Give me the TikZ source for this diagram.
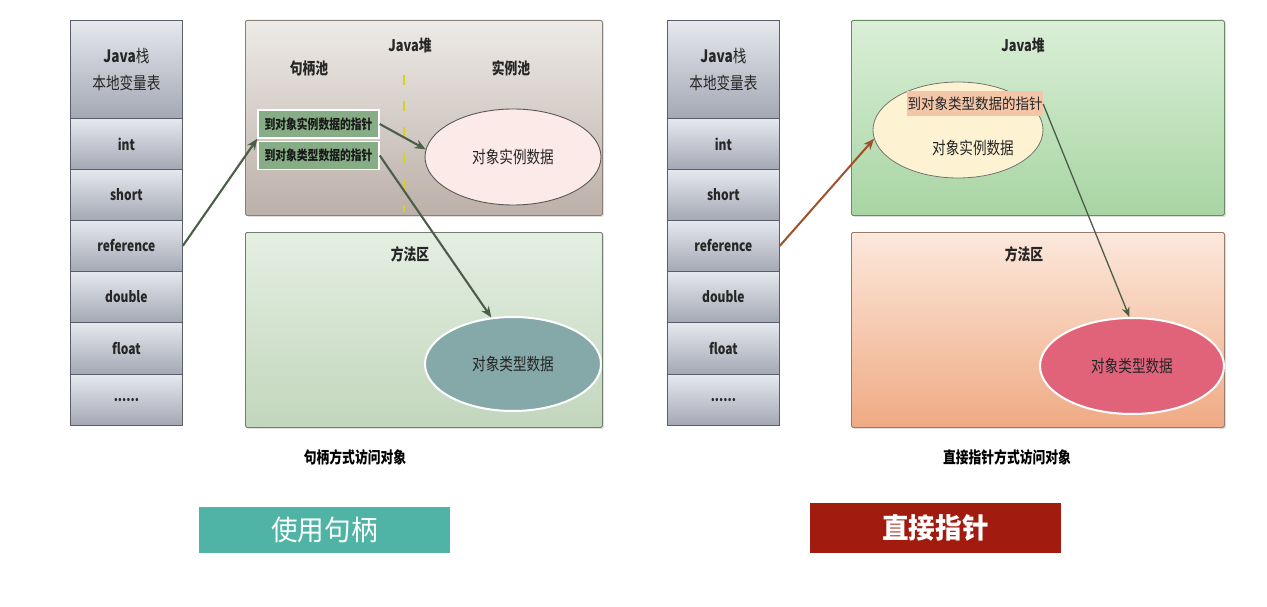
\documentclass[tikz,border=0pt]{standalone}
\usepackage{fontspec}
\setmainfont{Noto Sans CJK SC}[FakeStretch=0.8]
\newfontfamily\btnfont{Noto Sans CJK SC}[FakeStretch=0.95]
\newfontfamily\ptrfont{Noto Sans CJK SC}[FakeStretch=0.9]
\usetikzlibrary{arrows.meta,shapes.geometric,shadows}
\newcommand\fsz[2]{\fontsize{#1}{#2}\selectfont}
\definecolor{stacktop}{HTML}{E6E8EE}
\definecolor{stackbot}{HTML}{A4A8B4}
\definecolor{stackline}{HTML}{5A5E68}
\definecolor{lheaptop}{HTML}{EDEAE7}
\definecolor{lheapbot}{HTML}{BCB0A8}
\definecolor{lheapline}{HTML}{8A8078}
\definecolor{lmethtop}{HTML}{E4EFE2}
\definecolor{lmethbot}{HTML}{C2D6BC}
\definecolor{lmethline}{HTML}{6F7F6F}
\definecolor{rheaptop}{HTML}{DAEFD7}
\definecolor{rheapbot}{HTML}{A8D5A3}
\definecolor{rheapline}{HTML}{6A8A68}
\definecolor{rmethtop}{HTML}{FCE8DC}
\definecolor{rmethbot}{HTML}{EFAA83}
\definecolor{rmethline}{HTML}{9A7A6A}
\definecolor{hboxfill}{HTML}{86AD86}
\definecolor{instfill}{HTML}{FBEAE7}
\definecolor{typefill}{HTML}{85A8A8}
\definecolor{objfill}{HTML}{FDF2D2}
\definecolor{ptrfill}{HTML}{F3C6A8}
\definecolor{rtypefill}{HTML}{E0637A}
\definecolor{arrowgreen}{HTML}{4A5E48}
\definecolor{arrowbrown}{HTML}{A0502A}
\definecolor{dashyellow}{HTML}{D6D21E}
\definecolor{btnteal}{HTML}{4FB3A6}
\definecolor{btnred}{HTML}{A21B0F}
\begin{document}
\begin{tikzpicture}[x=1pt,y=-1pt,
  cell/.style={draw=stackline,line width=0.8pt,top color=stacktop,bottom color=stackbot,
    minimum width=112pt,inner sep=0,anchor=north west,font=\fsz{15}{18}\bfseries,text=black!85},
  area/.style={draw=#1line,line width=0.8pt,top color=#1top,bottom color=#1bot,rounded corners=1.5pt,
    anchor=north west,inner sep=0,
    drop shadow={opacity=0.25,shadow xshift=1.5pt,shadow yshift=-1.5pt}},
  lbl/.style={font=\fsz{16}{19}\bfseries,text=black!85,inner sep=0},
  hbox/.style={draw=white,line width=1.5pt,fill=hboxfill,minimum width=121pt,minimum height=28pt,
    inner sep=0,font=\fsz{13.5}{15}\bfseries,text=black!90},
  oval/.style={ellipse,inner sep=0,font=\fsz{17}{20},text=black!85},
  arr/.style={-{Stealth[length=11pt,width=9pt]},line width=2.1pt,draw=arrowgreen},
  btn/.style={minimum height=46pt,inner sep=0,text=white,font=\btnfont\fsz{28}{32}},
  captxt/.style={font=\fsz{16}{19}\bfseries,text=black,inner sep=0}]
\useasboundingbox[fill=white] (0,0) rectangle (1267,607);

% ---------- left stack ----------
\node[cell,minimum height=98pt,align=center,font=\fsz{17}{27}] (l0) at (70,20) {{\bfseries Java}栈\\本地变量表};
\node[cell,minimum height=51pt] (l1) at (70,118) {int};
\node[cell,minimum height=51pt] (l2) at (70,169) {short};
\node[cell,minimum height=51pt] (l3) at (70,220) {reference};
\node[cell,minimum height=51pt] (l4) at (70,271) {double};
\node[cell,minimum height=52pt] (l5) at (70,322) {float};
\node[cell,minimum height=51pt] (l6) at (70,374) {......};

% ---------- left heap ----------
\node[area=lheap,minimum width=357pt,minimum height=195pt] (lheap) at (245,20) {};
\node[lbl] (lheapt) at (410,45) {Java堆};
\node[lbl] (hpool) at (309,68) {句柄池};
\node[lbl] (ipool) at (511,68) {实例池};
\coordinate (dtop) at (404,75);
\coordinate (dbot) at (404,212);
\draw[dashyellow,line width=2.2pt,dash pattern=on 10pt off 16pt] (dtop) -- (dbot);
\node[hbox] (h1) at (318.5,124) {到对象实例数据的指针};
\node[hbox] (h2) at (318.5,155.5) {到对象类型数据的指针};
\node[oval,draw=black!65,line width=0.9pt,fill=instfill,minimum width=176pt,minimum height=96pt] (inst) at (513,157) {对象实例数据};

% ---------- left method area ----------
\node[area=lmeth,minimum width=357pt,minimum height=195pt] (lmeth) at (245,232) {};
\node[lbl] (lmetht) at (410,254) {方法区};
\node[oval,draw=white,line width=2pt,fill=typefill,minimum width=176pt,minimum height=94pt] (ltype) at (513,364) {对象类型数据};

% ---------- left arrows ----------
\draw[arr] (l3.east) -- (h1.south west);
\draw[arr] (h1.east) -- (inst.175);
\draw[arr] (h2.east) -- (ltype.115);

\node[captxt] (lcap) at (355,457) {句柄方式访问对象};
\node[btn,fill=btnteal,minimum width=251pt] (lbtn) at (324.5,530) {使用句柄};

% ---------- right stack ----------
\node[cell,minimum height=98pt,align=center,font=\fsz{17}{27}] (r0) at (667,20) {{\bfseries Java}栈\\本地变量表};
\node[cell,minimum height=51pt] (r1) at (667,118) {int};
\node[cell,minimum height=51pt] (r2) at (667,169) {short};
\node[cell,minimum height=51pt] (r3) at (667,220) {reference};
\node[cell,minimum height=51pt] (r4) at (667,271) {double};
\node[cell,minimum height=52pt] (r5) at (667,322) {float};
\node[cell,minimum height=51pt] (r6) at (667,374) {......};

% ---------- right heap ----------
\node[area=rheap,minimum width=373pt,minimum height=195pt] (rheap) at (851,20) {};
\node[lbl] (rheapt) at (1023,45) {Java堆};
\node[oval,draw=black!55,line width=0.8pt,fill=objfill,minimum width=170pt,minimum height=96pt] (obj) at (958,130) {};
\node[fill=ptrfill,inner sep=0,minimum width=136pt,minimum height=25pt,font=\ptrfont\fsz{15}{18},text=black!85] (ptr) at (975,104) {到对象类型数据的指针};
\node[font=\fsz{17}{20},text=black!85,inner sep=0] (objt) at (973,148) {对象实例数据};

% ---------- right method area ----------
\node[area=rmeth,minimum width=373pt,minimum height=195pt] (rmeth) at (851,232) {};
\node[lbl] (rmetht) at (1024,254) {方法区};
\node[oval,draw=white,line width=2pt,fill=rtypefill,minimum width=184pt,minimum height=96pt] (rtype) at (1132,366) {对象类型数据};

% ---------- right arrows ----------
\draw[-{Stealth[length=11pt,width=9pt]},line width=2pt,draw=arrowbrown] (r3.east) -- (obj.186);
\draw[-{Stealth[length=10pt,width=8pt]},line width=1.3pt,draw=arrowgreen] (ptr.east) -- (rtype.93);

\node[captxt] (rcap) at (1007,457) {直接指针方式访问对象};
\node[btn,fill=btnred,minimum width=251pt,minimum height=50pt,font=\btnfont\fsz{28}{32}\bfseries] (rbtn) at (935.5,528) {直接指针};
\end{tikzpicture}
\end{document}
